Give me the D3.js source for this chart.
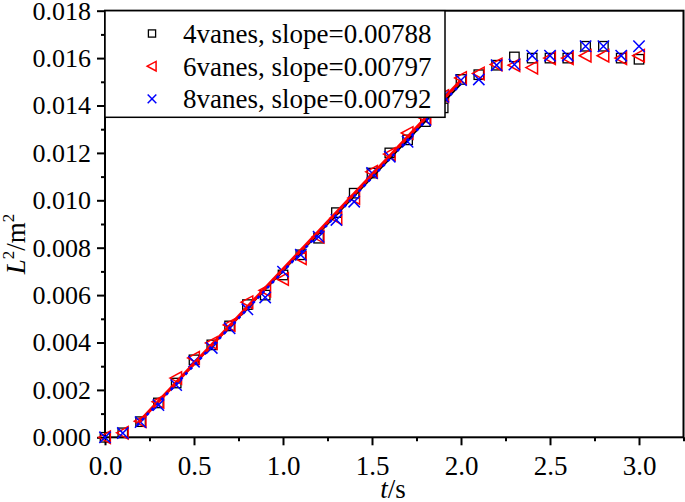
<!DOCTYPE html>
<html><head><meta charset="utf-8">
<script src="https://cdn.jsdelivr.net/npm/d3@7"></script>
<style>body{margin:0;background:#fff} svg{display:block}</style>
</head><body><svg id="c" width="685" height="502"></svg>
<script>
const times = [0.0,0.1,0.2,0.3,0.4,0.5,0.6,0.7,0.8,0.9,1.0,1.1,1.2,1.3,1.4,1.5,1.6,1.7,1.8,1.9,2.0,2.1,2.2,2.3,2.4,2.5,2.6,2.7,2.8,2.9,3.0];
const vanes4 = [0.0000,0.00019,0.00066,0.00145,0.00229,0.00327,0.00390,0.00470,0.00560,0.00600,0.00685,0.00770,0.00840,0.00948,0.01030,0.01115,0.01200,0.01255,0.01332,0.01390,0.01510,0.01530,0.01570,0.01605,0.01600,0.01600,0.01600,0.01650,0.01650,0.01600,0.01595];
const vanes6 = [0.0000,0.00019,0.00068,0.00150,0.00250,0.00335,0.00398,0.00474,0.00570,0.00620,0.00668,0.00756,0.00846,0.00925,0.01010,0.01120,0.01195,0.01284,0.01347,0.01440,0.01516,0.01535,0.01573,0.01570,0.01560,0.01600,0.01600,0.01610,0.01610,0.01600,0.01610];
const vanes8 = [0.0000,0.00018,0.00064,0.00136,0.00220,0.00319,0.00377,0.00460,0.00540,0.00590,0.00699,0.00770,0.00846,0.00917,0.00994,0.01115,0.01184,0.01247,0.01339,0.01437,0.01507,0.01510,0.01570,0.01573,0.01610,0.01610,0.01610,0.01650,0.01650,0.01610,0.01650];
const seriesNames = ["4vanes, slope=0.00788","6vanes, slope=0.00797","8vanes, slope=0.00792"];
const slopes = [0.00788,0.00797,0.00792];
const intercepts = [-0.00085,-0.00088,-0.00092];
const fitRange = [0.18,2.0];
const xTicks = [0.0,0.5,1.0,1.5,2.0,2.5,3.0];
const xMinor = [0.25,0.75,1.25,1.75,2.25,2.75,3.25];
const yTicks = [0.000,0.002,0.004,0.006,0.008,0.010,0.012,0.014,0.016,0.018];
const yMinor = [0.001,0.003,0.005,0.007,0.009,0.011,0.013,0.015,0.017];

const FONT = "'Liberation Serif','Times New Roman',serif";
const svg = d3.select("#c");
const L = 105, R = 683.5, T = 10.7, B = 437.3;
const x = d3.scaleLinear([0,3.25],[L,R]);
const y = d3.scaleLinear([0,0.018],[B,T]);

// axes
const gx = svg.append("g").attr("transform",`translate(0,${B})`);
gx.call(d3.axisBottom(x).tickValues(xTicks).tickSize(8).tickPadding(11).tickFormat(d3.format(".1f")));
const gxm = svg.append("g").attr("transform",`translate(0,${B})`);
gxm.call(d3.axisBottom(x).tickValues(xMinor).tickSize(4).tickFormat(""));
const gy = svg.append("g").attr("transform",`translate(${L},0)`);
gy.call(d3.axisLeft(y).tickValues(yTicks).tickSize(8).tickPadding(6).tickFormat(d3.format(".3f")));
const gym = svg.append("g").attr("transform",`translate(${L},0)`);
gym.call(d3.axisLeft(y).tickValues(yMinor).tickSize(4).tickFormat(""));
svg.selectAll(".domain").remove();
svg.selectAll(".tick line").attr("stroke","#000").attr("stroke-width",2);
gx.selectAll("text").attr("font-family",FONT).attr("font-size",27).attr("fill","#000");
gy.selectAll("text").attr("font-family",FONT).attr("font-size",26).attr("fill","#000");

// frame
svg.append("rect").attr("x",L).attr("y",T).attr("width",R-L).attr("height",B-T)
  .attr("fill","none").attr("stroke","#000").attr("stroke-width",2);

const series = [vanes4, vanes6, vanes8];
const colors = ["#000","#ff0000","#0000ff"];

function drawMarker(g, k, cx, cy, s) {
  if (k===0) {
    g.append("rect").attr("x",cx-s*0.75).attr("y",cy-s*0.75).attr("width",s*1.5).attr("height",s*1.5)
      .attr("fill","none").attr("stroke",colors[0]).attr("stroke-width",1.3);
  } else if (k===1) {
    g.append("path").attr("d",`M${cx-s},${cy}L${cx+s*0.85},${cy-s}L${cx+s*0.85},${cy+s}Z`)
      .attr("fill","none").attr("stroke",colors[1]).attr("stroke-width",1.5);
  } else {
    const h=s*0.9;
    g.append("path").attr("d",`M${cx-h},${cy-h}L${cx+h},${cy+h}M${cx-h},${cy+h}L${cx+h},${cy-h}`)
      .attr("fill","none").attr("stroke",colors[2]).attr("stroke-width",1.5);
  }
}

const gm = svg.append("g");
series.forEach((vals,k)=>{
  vals.forEach((v,i)=>drawMarker(gm,k,x(times[i]),y(v),6.3));
});

// fit lines
const line = d3.line().x(d=>x(d[0])).y(d=>y(d[1]));
const fitPts = k => fitRange.map(t=>[t, slopes[k]*t+intercepts[k]]);
svg.append("path").attr("d",line(fitPts(0))).attr("stroke","#000").attr("stroke-width",2).attr("fill","none");
svg.append("path").attr("d",line(fitPts(1))).attr("stroke","#ff0000").attr("stroke-width",3.2).attr("fill","none");
svg.append("path").attr("d",line(fitPts(2))).attr("stroke","#0000ff").attr("stroke-width",2.5)
  .attr("stroke-dasharray","3,4").attr("fill","none");

// legend
const lg = svg.append("g");
lg.append("rect").attr("x",L).attr("y",T).attr("width",445-L).attr("height",117.3-T)
  .attr("fill","#fff").attr("stroke","#000").attr("stroke-width",1.5);
seriesNames.forEach((n,k)=>{
  drawMarker(lg,k,152,33.5+32.7*k,4.8);
  lg.append("text").attr("x",183).attr("y",43.3+32.5*k).attr("font-family",FONT).attr("font-size",27)
    .attr("fill","#000").text(n);
});

// axis titles
const xt = svg.append("text").attr("x",393).attr("y",498).attr("text-anchor","middle")
  .attr("font-family",FONT).attr("font-size",27).attr("fill","#000");
xt.append("tspan").attr("font-style","italic").text("t");
xt.append("tspan").text("/s");

const yt = svg.append("text").attr("transform","translate(25,244) rotate(-90)").attr("text-anchor","middle")
  .attr("font-family",FONT).attr("font-size",27).attr("fill","#000");
yt.append("tspan").attr("font-style","italic").text("L");
yt.append("tspan").attr("font-size",17).attr("dy",-11).text("2");
yt.append("tspan").attr("dy",11).text("/m");
yt.append("tspan").attr("font-size",17).attr("dy",-11).text("2");
</script></body></html>
